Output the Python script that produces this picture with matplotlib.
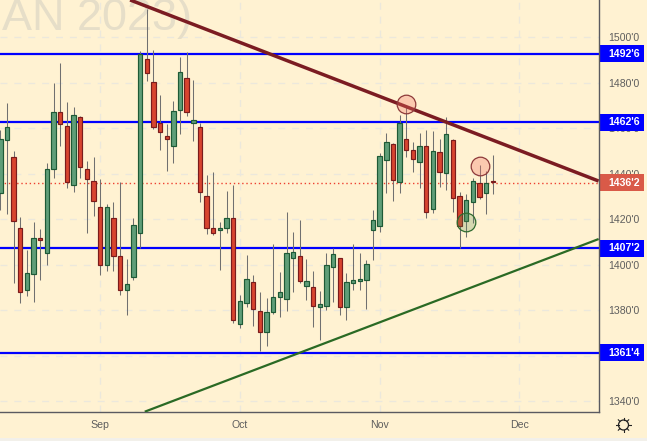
import matplotlib
matplotlib.use("Agg")
import matplotlib.pyplot as plt
from matplotlib.patches import Rectangle
from matplotlib.transforms import blended_transform_factory

plt.rcParams['font.family'] = ['Liberation Sans', 'DejaVu Sans']

# candle data: high, body top, body bottom, low
highs = [1459.3,1471.2,1450.1,1421.1,1406.6,1418.9,1415.8,1444.8,1480.0,1488.8,1471.6,1469.4,1465.5,1445.6,1447.5,
         1437.8,1426.7,1427.7,1436.3,1402.5,1420.5,1493.9,1512.5,1494.4,1474.7,1461.8,1472.1,1491.4,1493.6,1481.3,
         1462.3,1439.6,1440.7,1419.0,1432.5,1435.2,1386.7,1404.4,1395.6,1388.1,1385.4,1409.1,1396.9,1423.3,1414.5,
         1419.8,1402.6,1397.2,1388.6,1405.3,1407.5,1403.0,1396.5,1409.1,1405.3,1402.2,1424.2,1449.1,1458.0,1453.5,
         1465.8,1469.3,1453.9,1458.0,1459.2,1458.8,1455.2,1464.9,1455.2,1431.9,1431.1,1438.1,1444.0,1441.3,1448.4]
tops = [1455.2,1460.5,1447.3,1416.1,1396.3,1411.7,1411.7,1442.0,1467.1,1467.1,1460.9,1465.8,1464.9,1442.0,1436.8,
        1425.3,1425.3,1420.5,1403.8,1391.5,1417.4,1492.6,1490.4,1480.3,1462.3,1456.5,1467.5,1484.7,1482.1,1463.6,
        1460.5,1430.2,1416.1,1416.1,1420.5,1420.5,1384.0,1393.7,1392.4,1379.6,1379.2,1385.8,1388.0,1405.1,1405.6,
        1403.8,1392.8,1390.2,1382.7,1399.9,1404.7,1403.0,1392.4,1393.3,1393.7,1400.3,1419.6,1447.8,1453.9,1453.0,
        1462.3,1455.2,1450.4,1452.2,1452.2,1450.0,1449.5,1457.4,1454.8,1430.2,1428.4,1436.8,1435.9,1435.9,1436.8]
bottoms = [1431.5,1454.8,1419.2,1388.0,1388.9,1395.9,1410.8,1405.1,1442.0,1461.8,1436.3,1435.0,1442.9,1437.6,1428.0,
           1399.8,1399.8,1403.8,1388.9,1388.9,1394.6,1413.9,1484.2,1460.8,1458.3,1455.2,1452.2,1468.0,1467.1,1462.3,
           1431.9,1416.1,1413.9,1415.2,1416.1,1375.7,1373.9,1383.2,1380.5,1370.4,1370.4,1379.2,1385.8,1384.9,1402.9,
           1392.8,1390.6,1381.9,1381.4,1381.9,1399.0,1381.4,1381.4,1391.9,1392.8,1393.3,1415.2,1417.0,1446.0,1437.2,
           1436.3,1450.4,1446.4,1445.1,1423.2,1424.5,1440.7,1440.3,1429.3,1417.0,1419.2,1427.6,1429.7,1431.5,1436.3]
lows = [1424.2,1422.4,1392.2,1383.4,1386.5,1383.9,1393.5,1400.1,1438.4,1452.5,1434.0,1432.2,1438.4,1414.2,1421.7,
        1395.7,1397.5,1397.5,1387.0,1378.2,1393.5,1407.6,1480.9,1459.9,1450.7,1441.5,1445.0,1457.7,1465.6,1454.6,
        1427.8,1413.8,1413.3,1397.9,1414.2,1374.6,1372.4,1381.7,1373.3,1362.4,1364.5,1378.5,1377.3,1379.9,1388.3,
        1392.1,1384.8,1372.9,1367.2,1380.4,1383.9,1378.2,1376.0,1389.2,1389.2,1380.8,1402.2,1414.7,1431.5,1428.3,
        1431.8,1447.6,1441.0,1434.0,1420.8,1422.7,1434.4,1433.1,1423.4,1407.3,1412.5,1418.3,1428.9,1422.6,1431.3]
colours = list("GGRRGGRGGRRGRRR" "RGRRGGGRRRRGGRG" "RRRGGRGGRRGGGGG" "RGRGGGRGGGGGGGR" "GRRGRGRGRRGGRGR")

levels = [1492.75, 1462.75, 1407.25, 1361.5]
level_labels = ["1492'6", "1462'6", "1407'2", "1361'4"]
last_price = 1436.25
last_label = "1436'2"

price_ticks = [1340, 1360, 1380, 1400, 1420, 1440, 1460, 1480, 1500]
price_tick_labels = ["1340'0", "1360'0", "1380'0", "1400'0", "1420'0", "1440'0", "1460'0", "1480'0", "1500'0"]
month_ticks = [15, 36, 57, 78]
month_labels = ["Sep", "Oct", "Nov", "Dec"]

down_line_x = [19.5, 89.9]
down_line_y = [1516.5, 1436.9]
up_line_x = [21.7, 89.9]
up_line_y = [1335.5, 1411.4]

red_circles_x = [61, 72]
red_circles_y = [1470.6, 1443.4]
green_circle_x = [70]
green_circle_y = [1418.9]

BG = '#FFF2D2'
fig = plt.figure(figsize=(6.47, 4.41), dpi=100, facecolor='#F2F0EA')
W, H = 647, 441
fig.add_artist(Rectangle((0, 3/H), 1, 1, transform=fig.transFigure, facecolor=BG, edgecolor='none', zorder=-5))
ax = fig.add_axes([0, (H-411.7)/H, 598.7/W, 411.7/H])
ax.set_facecolor(BG)
ax.set_xlim(-0.05, 89.91)
ax.set_ylim(1335.5, 1516.48)
ax.set_axisbelow(True)

ax.yaxis.tick_right()
ax.set_yticks(price_ticks)
ax.set_yticklabels(price_tick_labels, fontsize=7.6, color='#5E5E5E')
ax.set_xticks(month_ticks)
ax.set_xticklabels(month_labels, fontsize=7.6, color='#5E5E5E')
ax.tick_params(axis='y', length=0, pad=7)
ax.tick_params(axis='x', length=0, pad=6)
ax.grid(True, color='#ECE8DC', linewidth=1, linestyle=(0, (5, 5)))
for s in ['top', 'left']:
    ax.spines[s].set_visible(False)
for s in ['right', 'bottom']:
    ax.spines[s].set_color('#5A5A60')
    ax.spines[s].set_linewidth(1)
ax.spines['right'].set_zorder(9)

ax.text(0.3, 1516.48 - 30/2.275, "AN 2023)", fontsize=32.4, color='#E6DEC8', va='baseline', ha='left', zorder=1)

ax.axhline(last_price, color='#EE4030', linewidth=1.0, linestyle=(0, (1, 2)), zorder=2)
for lv in levels:
    ax.axhline(lv, color='#0000FF', linewidth=1.6, zorder=2)

for i in range(len(highs)):
    up = colours[i] == 'G'
    ax.vlines(i, lows[i], highs[i], color='#707070', linewidth=0.75, zorder=3)
    ax.bar(i, tops[i] - bottoms[i], bottom=bottoms[i], width=0.66,
           facecolor='#5F9E78' if up else '#D8442F',
           edgecolor='#1E5A36' if up else '#7A1C1C', linewidth=0.85, zorder=4)

ax.plot(down_line_x, down_line_y, color='#7B1C22', linewidth=2.5, zorder=5, solid_capstyle='butt')
ax.plot(up_line_x, up_line_y, color='#2A6A24', linewidth=1.6, zorder=5, solid_capstyle='butt')

d = 18.6 * 0.72
ax.scatter(red_circles_x, red_circles_y, s=d**2, facecolor=(0.96, 0.45, 0.40, 0.32),
           edgecolor='#8E3A3A', linewidth=0.9, zorder=6)
ax.scatter(green_circle_x, green_circle_y, s=d**2, facecolor=(0.35, 0.55, 0.30, 0.25),
           edgecolor='#2F6B2F', linewidth=0.9, zorder=6)

tr = blended_transform_factory(ax.transAxes, ax.transData)
def tag(y, text, colour):
    ax.add_patch(Rectangle((1.0, y - 8.5/2.275), 45.3/598.7, 17/2.275, transform=tr, facecolor=colour,
                           edgecolor='none', clip_on=False, zorder=7))
    ax.text(1 + 10/598.7, y, text, transform=tr, color='white', fontsize=7.6, fontweight='bold',
            va='center', ha='left', clip_on=False, zorder=8)
for lv, lb in zip(levels, level_labels):
    tag(lv, lb, '#0000FF')
tag(last_price, last_label, '#D95A48')

# settings icon
icon = fig.add_axes([(623.5-8)/W, (H-425-8)/H, 16/W, 16/H])
icon.set_xlim(-8, 8); icon.set_ylim(-8, 8); icon.axis('off')
icon.add_patch(plt.Circle((0, 0), 5, facecolor='none', edgecolor='#222222', linewidth=0.9))
for dx, dy in [(1,0),(-1,0),(0,1),(0,-1),(.7,.7),(-.7,.7),(.7,-.7),(-.7,-.7)]:
    icon.plot([dx*5, dx*7.4], [dy*5, dy*7.4], color='#222222', linewidth=0.8)

fig.savefig('out.png', dpi=100, facecolor=fig.get_facecolor())
